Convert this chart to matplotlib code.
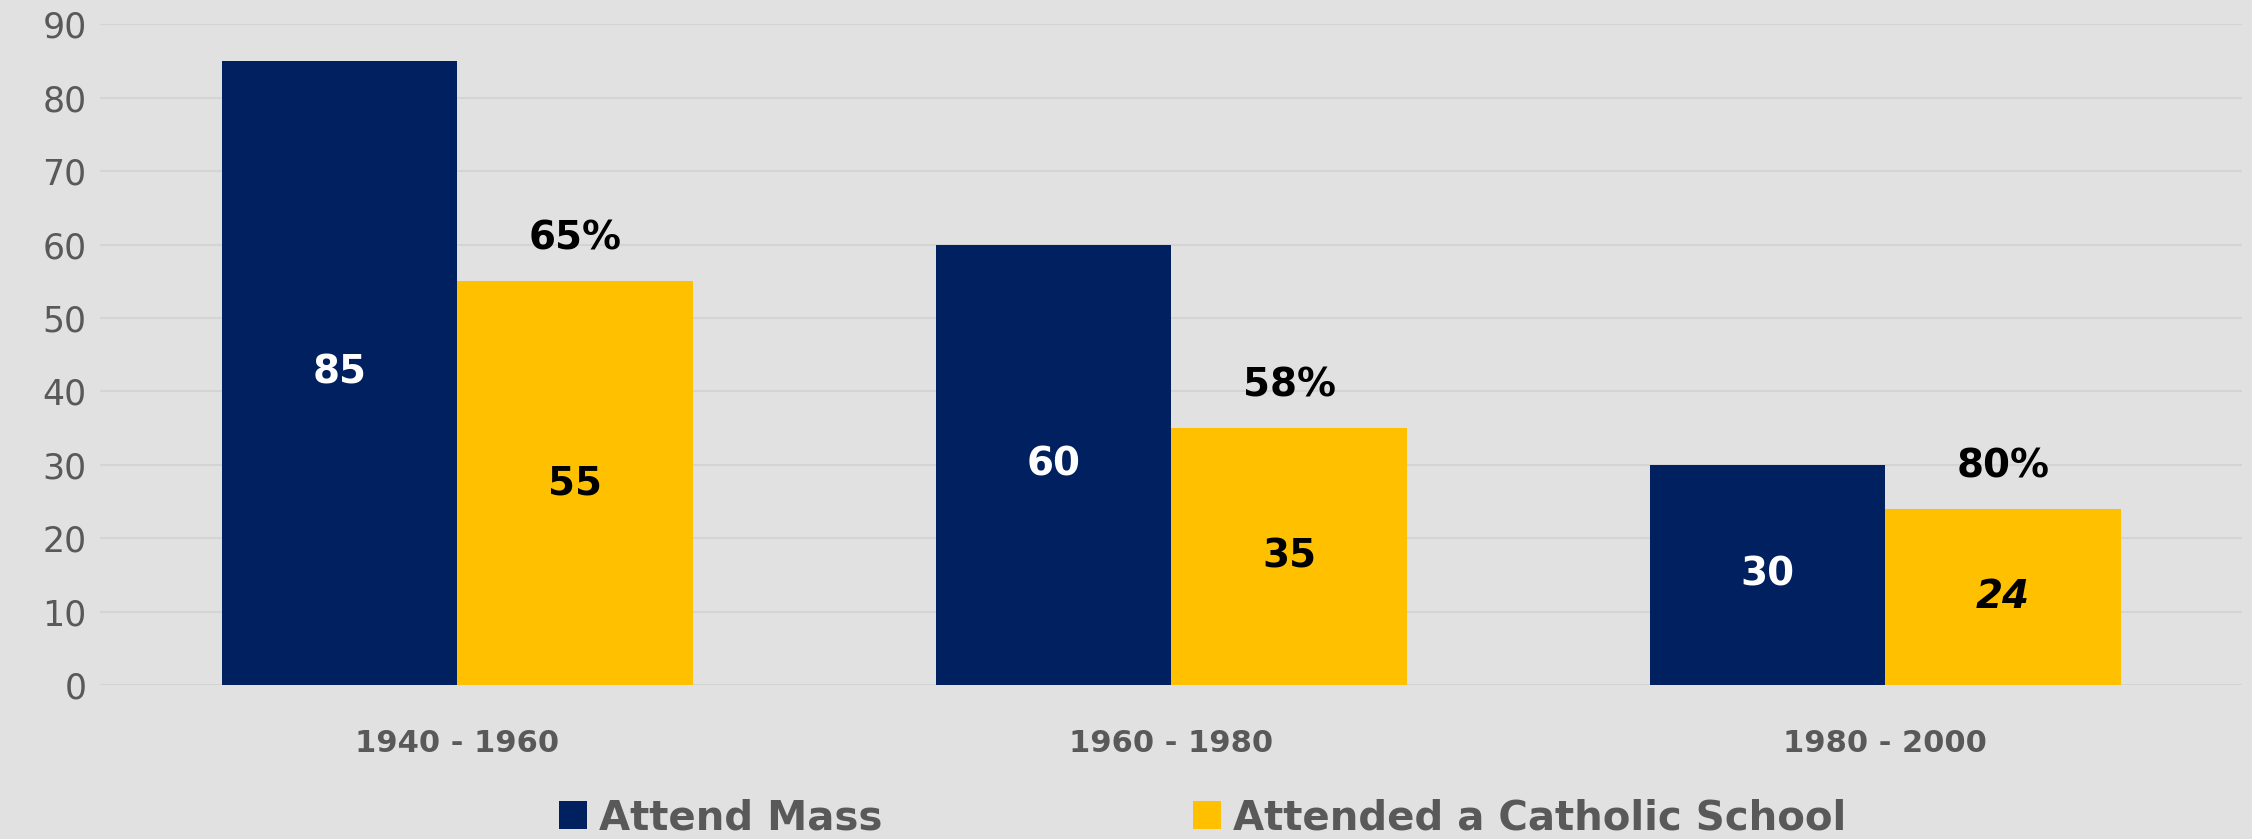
import matplotlib.pyplot as plt
import numpy as np

periods = ["1940 - 1960", "1960 - 1980", "1980 - 2000"]
attendMass = [85, 60, 30]
catholicSchool = [55, 35, 24]
pctLabels = ["65%", "58%", "80%"]

navy = "#002060"
gold = "#FFC000"
bg = "#E1E1E1"
txtGray = "#595959"

plt.rcParams['font.family'] = ['DejaVu Sans']

fig = plt.figure(figsize=(22.52, 8.39), dpi=100, facecolor=bg)
ax = fig.add_axes([0.0446, 0.1836, 0.951, 0.7874])
ax.set_facecolor(bg)

x = np.arange(len(periods))
w = 0.33
b1 = ax.bar(x - w/2, attendMass, w, color=navy, label="Attend Mass", zorder=3)
b2 = ax.bar(x + w/2, catholicSchool, w, color=gold, label="Attended a Catholic School", zorder=3)

ax.bar_label(b1, label_type='center', color='white', fontsize=28, fontweight='bold')
lbls = ax.bar_label(b2, label_type='center', color='black', fontsize=28, fontweight='bold')
lbls[-1].set_fontstyle('italic')
ax.bar_label(b2, labels=pctLabels, padding=17, color='black', fontsize=28, fontweight='bold')

ax.set_xlim(-0.5, 2.5)
ax.set_ylim(0, 90)
ax.set_yticks(np.arange(0, 91, 10))
ax.set_xticks(x)
ax.set_xticklabels(periods, fontweight='bold')
ax.tick_params(axis='y', length=0, labelsize=25, labelcolor=txtGray, pad=10)
ax.tick_params(axis='x', length=0, labelsize=22, labelcolor=txtGray, pad=32)
ax.grid(axis='y', color='#D4D4D4', linewidth=1.5, zorder=0)
for s in ax.spines.values():
    s.set_visible(False)

fig.legend(loc='center', bbox_to_anchor=(0.534, 0.025), ncol=2, frameon=False,
           prop={'size': 29, 'weight': 'bold'}, labelcolor=txtGray,
           handlelength=0.7, handleheight=0.7, handletextpad=0.3, columnspacing=7.7)

fig.savefig("out.png", dpi=100, facecolor=bg)
